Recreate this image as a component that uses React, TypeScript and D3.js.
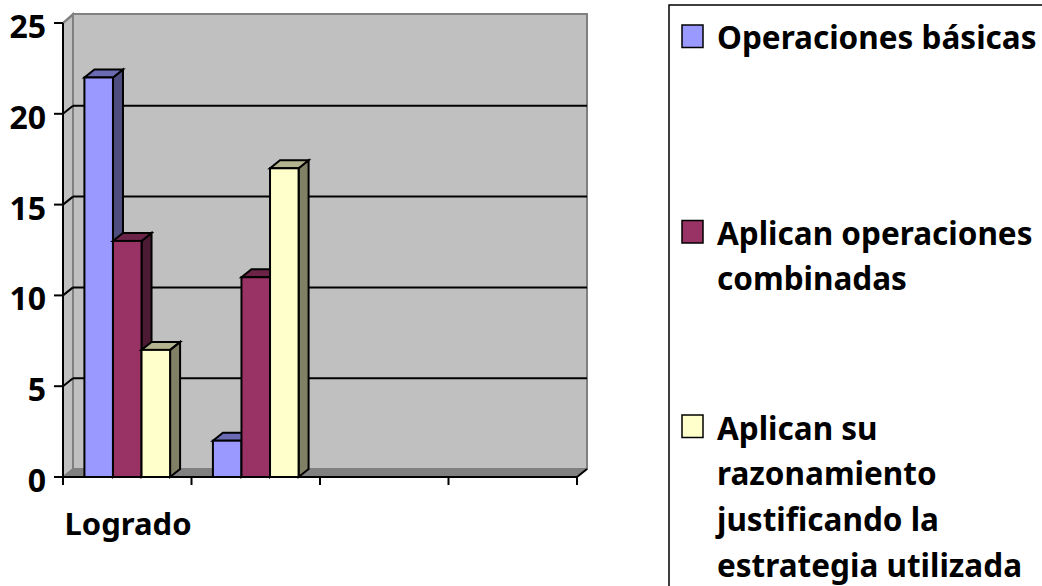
import React from "react";
import * as d3 from "d3";

const categories = ["Logrado", "", "", ""];
const seriesNames = ["Operaciones básicas", "Aplican operaciones", "Aplican su"];
const legendLines = [
  ["Operaciones básicas"],
  ["Aplican operaciones", "combinadas"],
  ["Aplican su", "razonamiento", "justificando la", "estrategia utilizada"],
];
const basicas = [22, 2];
const combinadas = [13, 11];
const razonamiento = [7, 17];
const yTicks = [0, 5, 10, 15, 20, 25];
const fronts = ["#9999ff", "#993366", "#ffffcc"];
const tops = ["#6b6bb3", "#6b2447", "#b3b38f"];
const sides = ["#4d4d80", "#4d1a33", "#808066"];

const W = 1042, H = 586;
const x0 = 63, x1 = 577, yB = 477, yT = 23, dx = 10, dy = 8;
const y = d3.scaleLinear().domain([0, 25]).range([yB, yT]);
const xBand = d3.scaleBand<number>().domain(d3.range(categories.length)).range([x0, x1]);
const seriesValues = [basicas, combinadas, razonamiento];
const barW = xBand.bandwidth() / 4.5;
const inner = d3.scaleBand<number>().domain([0, 1, 2]).range([0, barW * 3]);
const FONT = "'Noto Sans', sans-serif";
const pts = (a: number[][]) => a.map((p) => p.join(",")).join(" ");

function Bar({ s, c }: { s: number; c: number }) {
  const v = seriesValues[s][c];
  const l = xBand(c)! + (xBand.bandwidth() - barW * 3) / 2 + inner(s)!;
  const r = l + barW;
  const t = y(v);
  const b = yB;
  return (
    <g stroke="#000" strokeWidth={2} strokeLinejoin="miter">
      <polygon points={pts([[r, t], [r + dx, t - dy], [r + dx, b - dy], [r, b]])} fill={sides[s]} />
      <polygon points={pts([[l, t], [l + dx, t - dy], [r + dx, t - dy], [r, t]])} fill={tops[s]} />
      <rect x={l} y={t} width={barW} height={b - t} fill={fronts[s]} />
    </g>
  );
}

export default function App() {
  const swatchBottom = [47.5, 243, 437.5];
  const textY = [48.5, 244.5, 439.5];
  const lh = 45.8;
  const bands = d3.range(categories.length + 1).map((i) => x0 + i * xBand.step());
  return (
    <svg width={W} height={H} viewBox={`0 0 ${W} ${H}`} style={{ position: "absolute", left: 0, top: 0, background: "#fff" }}>
      {/* walls */}
      <polygon points={pts([[x0 + dx, yT - dy - 1], [x1 + dx, yT - dy - 1], [x1 + dx, yB - dy], [x0 + dx, yB - dy]])} fill="#c0c0c0" stroke="#808080" strokeWidth={2} />
      <polygon points={pts([[x0, yT], [x0 + dx, yT - dy - 1], [x0 + dx, yB - dy], [x0, yB]])} fill="#c0c0c0" stroke="#808080" strokeWidth={2} />
      <polygon points={pts([[x0, yB], [x0 + dx, yB - dy], [x1 + dx, yB - dy], [x1, yB]])} fill="#808080" />
      {/* gridlines */}
      {yTicks.filter((t) => t > 0 && t < 25).map((t) => (
        <g key={t} stroke="#000" strokeWidth={2} fill="none">
          <line x1={x0 + dx} x2={x1 + dx} y1={y(t) - dy} y2={y(t) - dy} />
          <line x1={x0} x2={x0 + dx} y1={y(t)} y2={y(t) - dy} />
        </g>
      ))}
      <line x1={x0} x2={x0 + dx} y1={yT} y2={yT - dy} stroke="#808080" strokeWidth={2} />
      <line x1={x1} x2={x1 + dx} y1={yB} y2={yB - dy} stroke="#000" strokeWidth={2} />
      {/* bars */}
      {d3.range(basicas.length).map((c) =>
        seriesValues.map((_, s) => <Bar key={`${c}-${s}`} s={s} c={c} />)
      )}
      {/* axes */}
      <g stroke="#000" strokeWidth={2}>
        <line x1={x0} x2={x0} y1={yT} y2={yB + 8} />
        <line x1={x0 - 8} x2={x1} y1={yB} y2={yB} />
        {yTicks.map((t) => <line key={t} x1={x0 - 9} x2={x0} y1={y(t)} y2={y(t)} />)}
        {bands.map((b) => <line key={b} x1={b} x2={b} y1={yB} y2={yB + 8} />)}
      </g>
      <g fontFamily={FONT} fontWeight={700} fill="#000">
        {yTicks.map((t) => (
          <text key={t} x={46} y={y(t) + 15} textAnchor="end" fontSize={32}>{t}</text>
        ))}
        {categories.map((c, i) => c && (
          <text key={i} x={xBand(i)! + xBand.bandwidth() / 2 + 0.8} y={535} textAnchor="middle" fontSize={31}>{c}</text>
        ))}
      </g>
      {/* legend */}
      <rect x={669} y={5} width={420} height={640} fill="#fff" stroke="#000" strokeWidth={1.5} />
      {seriesNames.map((n, s) => (
        <g key={n}>
          <rect x={682} y={swatchBottom[s] - 22.5} width={21} height={22.5} fill={fronts[s]} stroke="#000" strokeWidth={1.5} />
          {legendLines[s].map((line, j) => (
            <text key={j} x={717} y={textY[s] + j * lh} fontFamily={FONT} fontWeight={700} fontSize={31.5} fill="#000">{line}</text>
          ))}
        </g>
      ))}
    </svg>
  );
}
